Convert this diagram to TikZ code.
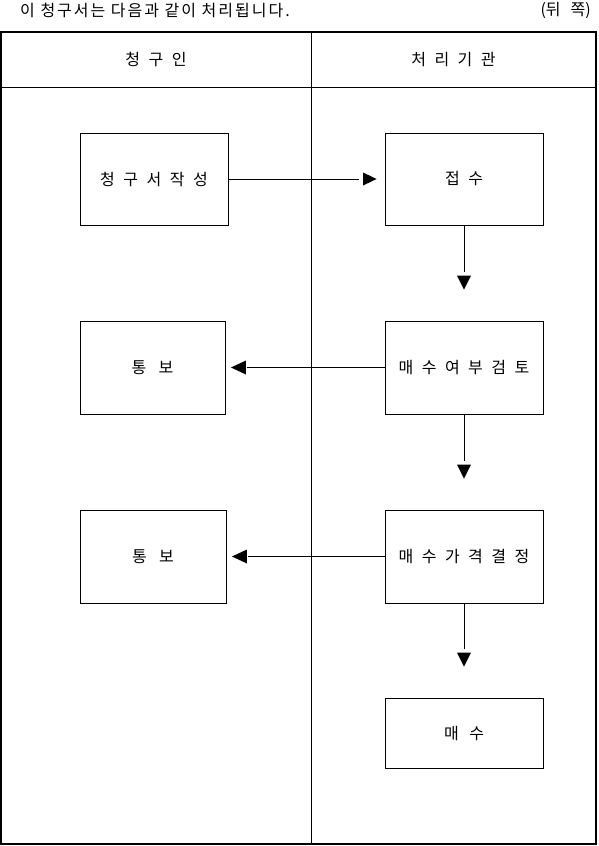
\documentclass[tikz,border=0pt]{standalone}
\usepackage{fontspec}
\setmainfont{Noto Sans CJK KR}
\newfontfamily\titlefam[LetterSpace=12.5]{Noto Sans CJK KR}
\usetikzlibrary{calc}
\newcommand\wsfont{\fontsize{16}{18}\selectfont\spaceskip 8.5pt\relax}
\newcommand\titlefont{\titlefam\fontsize{16}{18}\selectfont}
\newcommand\sidefont{\fontsize{16}{18}\selectfont\spaceskip 10pt\relax}
\begin{document}
\begin{tikzpicture}[x=1pt,y=-1pt,
  box/.style={draw, line width=0.9pt, inner sep=0pt, align=center, font=\wsfont},
  hdr/.style={inner sep=0pt, font=\wsfont},
  conn/.style={line width=0.9pt},
  tip/.style={fill=black}]
\useasboundingbox (0,0) rectangle (598,846);
% frame
\draw[line width=2pt] (1,32) rectangle (596,844);
\draw[line width=0.9pt] (311.5,32) -- (311.5,844);
\draw[line width=0.9pt] (1,87) -- (596,87);
% top texts
\node[anchor=west, inner sep=0pt, font=\titlefont] (title) at (20,10) {이 청구서는 다음과 같이 처리됩니다.};
\node[anchor=east, inner sep=0pt, font=\sidefont] (side) at (591,10) {(뒤 쪽)};
% headers
\node[hdr] (h1) at (156,59.5) {청 구 인};
\node[hdr] (h2) at (453.5,59.5) {처 리 기 관};
% boxes
\node[box, minimum width=148pt, minimum height=92pt] (req) at (154,179) {청 구 서 작 성};
\node[box, minimum width=158pt, minimum height=92pt] (recv) at (464,179) {접 수};
\node[box, minimum width=145pt, minimum height=93pt] (not1) at (152.5,367.5) {통\hspace{4pt} 보};
\node[box, minimum width=158pt, minimum height=93pt] (rev) at (464,367.5) {매 수 여 부 검 토};
\node[box, minimum width=146pt, minimum height=93pt] (not2) at (153,556.5) {통\hspace{4pt} 보};
\node[box, minimum width=158pt, minimum height=93pt] (price) at (464,556.5) {매 수 가 격 결 정};
\node[box, minimum width=158pt, minimum height=70pt] (buy) at (464,733) {매\hspace{2pt} 수};
% right arrow
\coordinate (t1) at ($(recv.west)+(-8,0)$);
\draw[conn] (req.east) -- ($(t1)+(-18,0)$);
\fill[tip] (t1) -- ++(-13.5,-6.5) -- ++(0,13) -- cycle;
% down arrows
\coordinate (t2) at ($(rev.north)+(0,-31)$);
\draw[conn] (recv.south) -- ($(t2)+(0,-18)$);
\fill[tip] (t2) -- ++(-7,-14) -- ++(14,0) -- cycle;
\coordinate (t3) at ($(price.north)+(0,-31)$);
\draw[conn] (rev.south) -- ($(t3)+(0,-18)$);
\fill[tip] (t3) -- ++(-7,-14) -- ++(14,0) -- cycle;
\coordinate (t4) at ($(buy.north)+(0,-31)$);
\draw[conn] (price.south) -- ($(t4)+(0,-18)$);
\fill[tip] (t4) -- ++(-7,-14) -- ++(14,0) -- cycle;
% left arrows
\coordinate (t5) at ($(not1.east)+(5.5,0)$);
\draw[conn] (rev.west) -- ($(t5)+(16.5,0)$);
\fill[tip] (t5) -- ++(15,-7) -- ++(0,14) -- cycle;
\coordinate (t6) at ($(not2.east)+(5.5,0)$);
\draw[conn] (price.west) -- ($(t6)+(16.5,0)$);
\fill[tip] (t6) -- ++(15,-7) -- ++(0,14) -- cycle;
\end{tikzpicture}
\end{document}
